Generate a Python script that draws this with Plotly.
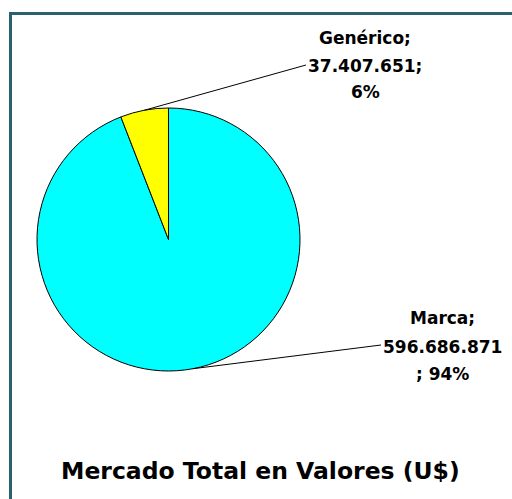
import math
import plotly.graph_objects as go

W, H = 512, 499

labels = ["Marca", "Genérico"]
values = [596686871, 37407651]
colors = ["#00FFFF", "#FFFF00"]
title_text = "Mercado Total en Valores (U$)"

total = sum(values)

def fmt(v):
    return f"{v:,}".replace(",", ".")

# pie geometry in pixels (layout)
cx, cy, r = 168.5, 239.5, 131.5

fig = go.Figure()
fig.add_trace(go.Pie(
    labels=labels, values=values, sort=False, direction="clockwise", rotation=0,
    marker=dict(colors=colors, line=dict(color="#000000", width=1)),
    textinfo="none", hoverinfo="skip", showlegend=False,
    domain=dict(x=[(cx - r) / W, (cx + r) / W], y=[1 - (cy + r) / H, 1 - (cy - r) / H]),
))

def px(x):
    return x / W

def py(y):
    return 1 - y / H

# label layout: (center x, line y positions, leader end point)
label_layout = {
    "Marca": dict(x=442, ys=[318, 347, 374], end=(381, 345)),
    "Genérico": dict(x=365, ys=[38, 66, 92], end=(306, 65)),
}

lab_font = dict(family="DejaVu Sans", size=17, color="#000000")

annotations = []
shapes = []
cum = 0
for lab, v in zip(labels, values):
    frac = v / total
    mid = (cum + frac / 2) * 2 * math.pi
    cum += frac
    ax_, ay_ = cx + r * math.sin(mid), cy - r * math.cos(mid)
    L = label_layout[lab]
    pct = f"{round(frac * 100)}%"
    if lab == "Marca":
        lines = [f"<b>{lab};</b>", f"<b>{fmt(v)}</b>", f"<b>; {pct}</b>"]
    else:
        lines = [f"<b>{lab};</b>", f"<b>{fmt(v)};</b>", f"<b>{pct}</b>"]
    for t, yy in zip(lines, L["ys"]):
        annotations.append(dict(text=t, x=px(L["x"]), y=py(yy), xref="paper", yref="paper",
                                xanchor="center", yanchor="middle", showarrow=False, font=lab_font))
    ex, ey = L["end"]
    shapes.append(dict(type="line", xref="paper", yref="paper",
                       x0=px(ax_), y0=py(ay_), x1=px(ex), y1=py(ey),
                       line=dict(color="#000000", width=1)))

annotations.append(dict(text=f"<b>{title_text}</b>", x=px(260), y=py(471), xref="paper", yref="paper",
                        xanchor="center", yanchor="middle", showarrow=False,
                        font=dict(family="DejaVu Sans", size=23.5, color="#000000")))

# frame (top and left edges visible)
shapes.append(dict(type="rect", xref="paper", yref="paper",
                   x0=px(10.5), y0=py(13.5), x1=1.1, y1=-0.1,
                   line=dict(color="#2B6070", width=3), fillcolor="rgba(0,0,0,0)", layer="above"))

fig.update_layout(
    width=W, height=H, margin=dict(l=0, r=0, t=0, b=0),
    paper_bgcolor="#FFFFFF", plot_bgcolor="#FFFFFF",
    annotations=annotations, shapes=shapes,
)

fig.write_html("out.html", config={"displayModeBar": False},
               post_script="document.body.style.margin='0';document.body.style.overflow='hidden';")
